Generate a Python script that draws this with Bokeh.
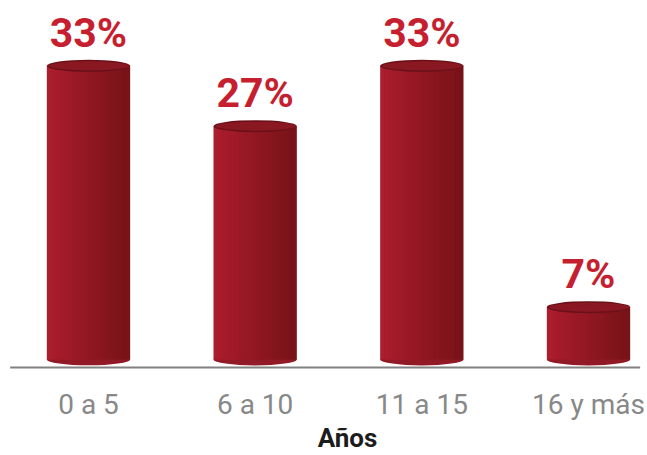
import numpy as np
from bokeh.plotting import figure
from bokeh.models import Range1d, ColumnDataSource
from bokeh.core.properties import value
from bokeh.embed import file_html
from bokeh.resources import INLINE

# ---- data ----
categories = ["0 a 5", "6 a 10", "11 a 15", "16 y más"]
shares = [33.33, 26.67, 33.33, 6.67]
share_labels = ["33%", "27%", "33%", "7%"]
axis_title = "Años"

# ---- style ----
BAR_W = 0.5
BASE = 0.9          # bottom cap offset (style)
N_STRIPS = 20
LEFT_RGB = np.array([0xac, 0x1d, 0x2e])
RIGHT_RGB = np.array([0x78, 0x13, 0x18])

pos = np.arange(len(categories), dtype=float)

p = figure(width=647, height=455, output_backend="svg", toolbar_location=None,
           x_range=Range1d(-0.528, 3.354), y_range=Range1d(-9.72, 40.55),
           x_axis_location=None, y_axis_location=None,
           min_border_left=0, min_border_right=0, min_border_top=0, min_border_bottom=0)
p.outline_line_color = None
p.xgrid.visible = False
p.ygrid.visible = False
p.background_fill_color = "white"
p.border_fill_color = "white"

# baseline
p.segment(x0=[pos[0] - 0.47], y0=[0], x1=[pos[-1] + 0.31], y1=[0],
          line_color="#808080", line_width=2)

# bottom caps
p.ellipse(x=pos, y=[BASE] * len(pos), width=BAR_W, height=12, height_units="screen",
          fill_color="#921a27", line_color=None)

# bodies as overlapping vertical gradient strips
sw = BAR_W / N_STRIPS
lefts, rights, tops, cols = [], [], [], []
for i, v in zip(pos, shares):
    x0 = i - BAR_W / 2
    for k in range(N_STRIPS):
        t = k / (N_STRIPS - 1)
        rgb = (LEFT_RGB * (1 - t) + RIGHT_RGB * t).astype(int)
        lefts.append(x0 + sw * k)
        rights.append(min(x0 + sw * (k + 1.8), i + BAR_W / 2))
        tops.append(v)
        cols.append("#%02x%02x%02x" % tuple(rgb))
p.quad(left=lefts, right=rights, top=tops, bottom=BASE, fill_color=cols, line_color=None)

# top caps
p.ellipse(x=pos, y=shares, width=BAR_W, height=12, height_units="screen",
          fill_color="#6a1018", line_color=None)
p.ellipse(x=pos + 0.004, y=shares, width=BAR_W * 0.97, height=9, height_units="screen",
          fill_color="#8a1823", line_color=None)

# value labels
src = ColumnDataSource(dict(x=pos, y=shares, t=share_labels))
p.text(x="x", y="y", text="t", source=src, y_offset=-33,
       text_align="center", text_baseline="alphabetic",
       text_font=value("Roboto"), text_font_style="bold",
       text_font_size="41px", text_color="#c51f30")

# category labels
csrc = ColumnDataSource(dict(x=pos, y=[0] * len(pos), t=categories))
p.text(x="x", y="y", text="t", source=csrc, y_offset=37,
       text_align="center", text_baseline="alphabetic",
       text_font=value("Roboto"), text_font_size="28px", text_color="#888888")

# axis title
p.text(x=[pos.mean()], y=[0], text=[axis_title], x_offset=9, y_offset=70,
       text_align="center", text_baseline="alphabetic",
       text_font=value("Roboto"), text_font_style="bold",
       text_font_size="26px", text_color="#1c1c1c")

open("out.html", "w").write(file_html(p, INLINE))
